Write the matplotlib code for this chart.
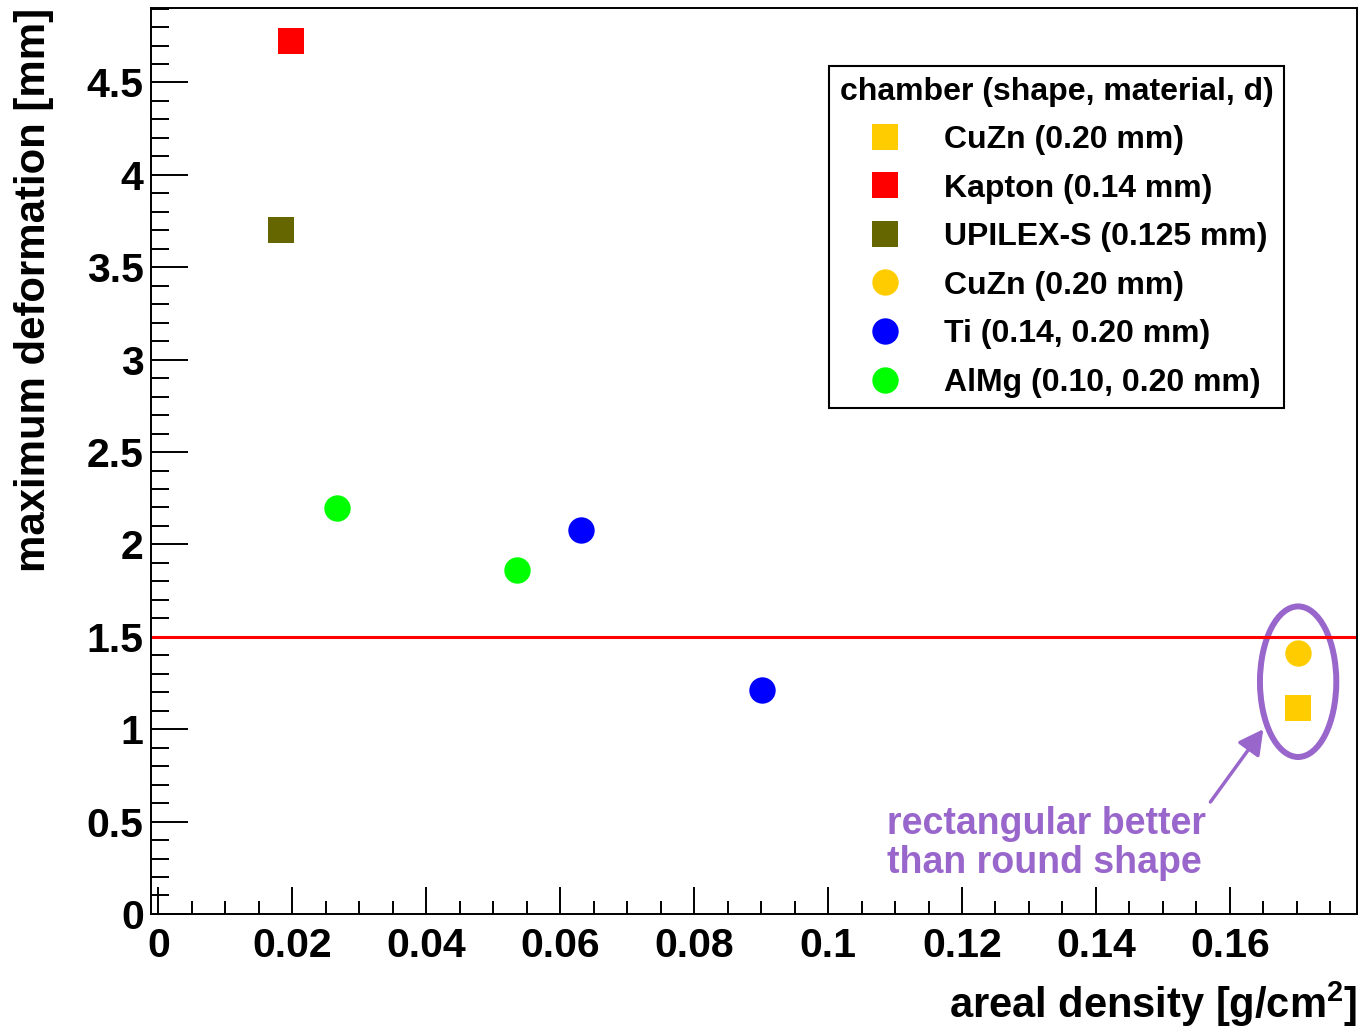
import numpy as np
import matplotlib
matplotlib.use("Agg")
import matplotlib.pyplot as plt
from matplotlib.lines import Line2D
from matplotlib.patches import Ellipse
from matplotlib.ticker import MultipleLocator, FormatStrFormatter

plt.rcParams['font.family'] = ['Liberation Sans', 'DejaVu Sans']
plt.rcParams['font.weight'] = 'bold'
plt.rcParams['mathtext.fontset'] = 'custom'
plt.rcParams['mathtext.rm'] = 'Liberation Sans:bold'
plt.rcParams['mathtext.default'] = 'rm'

# data (areal density [g/cm2], max deformation [mm])
cuzn_rect_x = [0.1702]
cuzn_rect_y = [1.113]
kapton_x = [0.0198]
kapton_y = [4.724]
upilex_x = [0.0183]
upilex_y = [3.70]
cuzn_round_x = [0.1702]
cuzn_round_y = [1.41]
ti_x = [0.0631, 0.0902]
ti_y = [2.076, 1.21]
almg_x = [0.0267, 0.0535]
almg_y = [2.197, 1.86]

limit = 1.5

labels = ["CuZn (0.20 mm)", "Kapton (0.14 mm)", "UPILEX-S (0.125 mm)",
          "CuZn (0.20 mm)", "Ti (0.14, 0.20 mm)", "AlMg (0.10, 0.20 mm)"]
colors = ['#ffcc00', '#ff0000', '#666600', '#ffcc00', '#0000ff', '#00ff00']
markers = ['s', 's', 's', 'o', 'o', 'o']
xs = [cuzn_rect_x, kapton_x, upilex_x, cuzn_round_x, ti_x, almg_x]
ys = [cuzn_rect_y, kapton_y, upilex_y, cuzn_round_y, ti_y, almg_y]

purple = '#9966cc'

fig = plt.figure(figsize=(13.61, 10.29), dpi=100)
ax = fig.add_axes([0.1107, 0.1118, 0.8864, 0.8804])

handles = []
for x, y, c, m, lab in zip(xs, ys, colors, markers, labels):
    h, = ax.plot(x, y, linestyle='none', marker=m, markersize=19,
                 color=c, markeredgewidth=0, label=lab)
    handles.append(h)

ax.axhline(limit, color='#ff0000', lw=2.2)

ax.set_xlim(-0.00117, 0.1790)
ax.set_ylim(0, 4.903)

ax.xaxis.set_major_locator(MultipleLocator(0.02))
ax.xaxis.set_minor_locator(MultipleLocator(0.005))
ax.yaxis.set_major_locator(MultipleLocator(0.5))
ax.yaxis.set_minor_locator(MultipleLocator(0.1))
ax.xaxis.set_major_formatter(FormatStrFormatter('%g'))
ax.yaxis.set_major_formatter(FormatStrFormatter('%g'))

ax.tick_params(axis='both', which='both', direction='in', top=False, right=False,
               width=1.4, labelsize=29.5)
ax.tick_params(axis='x', which='major', length=19.4, pad=9.5)
ax.tick_params(axis='x', which='minor', length=9.7)
ax.tick_params(axis='y', which='major', length=26.6, pad=5)
ax.tick_params(axis='y', which='minor', length=13.3)
for lab in ax.get_xticklabels() + ax.get_yticklabels():
    lab.set_fontweight('bold')
for sp in ax.spines.values():
    sp.set_linewidth(1.4)

ax.set_xlabel('areal density [g/cm$^{2}$]', fontsize=30, fontweight='bold')
ax.xaxis.set_label_coords(1.0, -0.1145)
ax.xaxis.label.set_ha('right')
ax.xaxis.label.set_va('baseline')
ax.set_ylabel('maximum deformation [mm]', fontsize=30.2, fontweight='bold')
ax.yaxis.set_label_coords(-0.080, 1.0)
ax.yaxis.label.set_ha('right')

leg = ax.legend(handles=handles, labels=labels, title='chamber (shape, material, d)',
                loc='upper left', bbox_to_anchor=(829 / 1361, 1 - 66 / 1029),
                bbox_transform=fig.transFigure, borderaxespad=0,
                prop={'weight': 'bold', 'size': 23},
                title_fontproperties={'weight': 'bold', 'size': 23},
                fancybox=False, framealpha=1, edgecolor='black',
                borderpad=0.33, handlelength=2.85, handletextpad=0.42,
                labelspacing=0.58, numpoints=1)
leg.get_frame().set_linewidth(1.5)
leg._legend_box.align = 'left'

# annotation: rectangular vs round CuZn chamber
ell = Ellipse((0.1702, 1.257), width=0.0114, height=0.815, fill=False,
              edgecolor=purple, lw=4.3)
ax.add_patch(ell)
ax.annotate('', xy=(0.1650, 1.0), xytext=(0.1571, 0.606),
            arrowprops=dict(arrowstyle='-|>,head_length=1.5,head_width=0.8',
                            color=purple, lw=2.5, shrinkA=0, shrinkB=0))
ax.text(0.1088, 0.222, 'rectangular better\nthan round shape', color=purple,
        fontsize=27, fontweight='bold', ha='left', va='baseline',
        linespacing=1.12)

fig.savefig('out.png', dpi=100)
